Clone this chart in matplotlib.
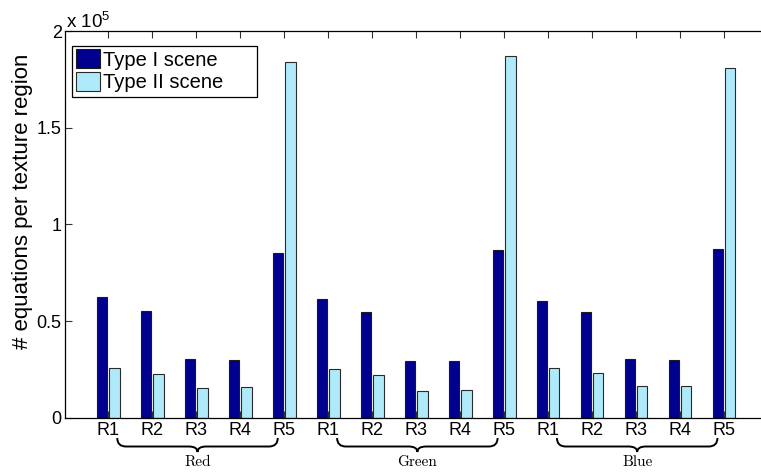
import matplotlib
matplotlib.use("Agg")
import matplotlib.pyplot as plt
import numpy as np
from matplotlib.path import Path
from matplotlib.patches import PathPatch, Patch, Rectangle
from matplotlib.transforms import blended_transform_factory

# ---- data (values in units of 1e5 equations) ----
regions = ["R1", "R2", "R3", "R4", "R5"]
channels = ["Red", "Green", "Blue"]
type1 = [0.623, 0.550, 0.303, 0.299, 0.854,
         0.615, 0.549, 0.295, 0.295, 0.867,
         0.604, 0.549, 0.301, 0.299, 0.871]
type2 = [0.256, 0.225, 0.152, 0.157, 1.843,
         0.249, 0.219, 0.138, 0.141, 1.875,
         0.257, 0.228, 0.162, 0.165, 1.812]
series_names = ["Type I scene", "Type II scene"]
yticks = [0, 0.5, 1, 1.5, 2]
ytick_labels = ["0", "0.5", "1", "1.5", "2"]

plt.rcParams['font.family'] = ['Liberation Sans', 'DejaVu Sans']
plt.rcParams['mathtext.fontset'] = 'custom'
plt.rcParams['mathtext.rm'] = 'Liberation Sans'
plt.rcParams['mathtext.it'] = 'Liberation Sans'

W, H = 761, 473
fig = plt.figure(figsize=(W / 100, H / 100), dpi=100)
ax_left, ax_right_px, ax_top_px, ax_bot_px = 64.5, 768, 31.5, 417.5
ax = fig.add_axes([ax_left / W, 1 - ax_bot_px / H,
                   (ax_right_px - ax_left) / W, (ax_bot_px - ax_top_px) / H])

dark = '#000090'
light = '#AEEAFA'
x = np.arange(1, len(type1) + 1)
off = 0.14
bw = 0.235
ax.bar(x - off, type1, width=bw, color=dark, edgecolor='#1a1a1a', linewidth=0.8, zorder=2)
ax.bar(x + off, type2, width=bw, color=light, edgecolor='#2a2a2a', linewidth=0.8, zorder=2)

ax.set_xlim(0, 16)
ax.set_ylim(0, 2)
ax.set_xticks(x)
ax.set_xticklabels(regions * len(channels), fontsize=13)
ax.set_yticks(yticks)
ax.set_yticklabels(ytick_labels, fontsize=13)
ax.tick_params(axis='both', direction='in', length=5, width=0.8,
               top=True, right=True, color='#333333')
ax.tick_params(axis='x', pad=3)
ax.tick_params(axis='y', pad=2)
for s in ax.spines.values():
    s.set_linewidth(0.9)
    s.set_zorder(3)

ax.set_ylabel("# equations per texture region", fontsize=16)
ax.yaxis.set_label_coords(-0.045, 0.561)

ax.text(0.002, 1.0, r'x 10$^{5}$', transform=ax.transAxes, ha='left', va='bottom',
        fontsize=13.5)

def fy(py):
    return 1 - py / H

# legend frame drawn explicitly to match the wide MATLAB box
fig.add_artist(Rectangle((72 / W, fy(96.7)), (257 - 72) / W, (96.7 - 45.7) / H,
                         transform=fig.transFigure, facecolor='white',
                         edgecolor='black', linewidth=0.9, zorder=4))
handles = [Patch(facecolor=dark, edgecolor='#1a1a1a', linewidth=0.8),
           Patch(facecolor=light, edgecolor='#2a2a2a', linewidth=0.8)]
leg = fig.legend(handles, series_names, loc='upper left',
                 bbox_to_anchor=(73 / W, fy(46)), fontsize=14.5,
                 frameon=False, borderaxespad=0, borderpad=0.15,
                 handlelength=1.2, handleheight=1.1, handletextpad=0.15,
                 labelspacing=0.12)
leg.set_zorder(5)

# ---- braces under each channel group ----
tr = blended_transform_factory(ax.transData, fig.transFigure)

def brace(x0, x1, ytop, ymid, ytip, r=0.2):
    xc = (x0 + x1) / 2
    verts = [(x0, fy(ytop)), (x0, fy(ymid)), (x0 + r, fy(ymid)),
             (xc - r, fy(ymid)), (xc, fy(ymid)), (xc, fy(ytip)),
             (xc, fy(ymid)), (xc + r, fy(ymid)),
             (x1 - r, fy(ymid)), (x1, fy(ymid)), (x1, fy(ytop))]
    codes = [Path.MOVETO, Path.CURVE3, Path.CURVE3,
             Path.LINETO, Path.CURVE3, Path.CURVE3,
             Path.CURVE3, Path.CURVE3,
             Path.LINETO, Path.CURVE3, Path.CURVE3]
    p = PathPatch(Path(verts, codes), transform=tr, fill=False,
                  edgecolor='black', linewidth=1.4, clip_on=False)
    fig.add_artist(p)
    return xc

for i, name in enumerate(channels):
    start = 1 + 5 * i
    xc = brace(start + 0.2, start + 3.85, 438, 446.5, 452)
    fig.text(xc, fy(462), name, transform=tr, ha='center', va='center',
             fontsize=11, family='cmr10')

fig.savefig('out.png', dpi=100)
